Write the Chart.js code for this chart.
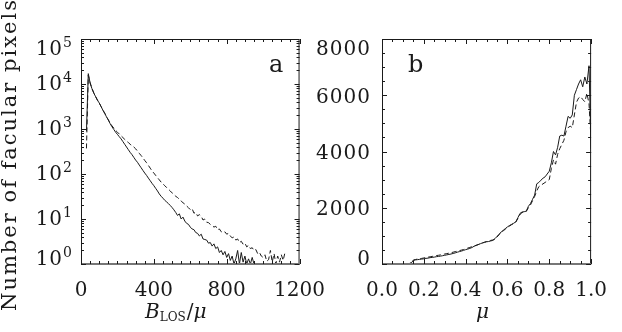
<!DOCTYPE html>
<html>
<head>
<meta charset="utf-8">
<title>Number of facular pixels</title>
<script src="https://cdn.jsdelivr.net/npm/chart.js"></script>
<style>
  body { margin: 0; background: #fff; }
  #wrap { position: relative; width: 622px; height: 332px; overflow: hidden; background: #fff; }
  canvas { position: absolute; top: 0; }
  #chartA { left: 0; }
  #chartB { left: 300px; }
</style>
</head>
<body>
<div id="wrap">
  <canvas id="chartA" width="340" height="332"></canvas>
  <canvas id="chartB" width="322" height="332"></canvas>
</div>
<script>
// panel a: histogram of B_LOS/mu (solid and dashed samples)
const bField = [30,40,50,60,70,80,90,100,110,120,130,140,150,160,170,180,190,200,210,220,
  230,240,250,260,270,280,290,300,310,320,330,340,350,360,370,380,390,400,410,420,
  430,440,450,460,470,480,490,500,510,520,530,540,550,560,570,580,590,600,610,620,
  630,640,650,660,670,680,690,700,710,720,730,740,750,760,770,780,790,800,810,820,
  830,840,850,860,870,880,890,900,910,920,930,940,950,960,970,980,990,1000,1010,1020,
  1030,1040,1050,1060,1070,1080,1090,1100,1110,1120];
const solidA = [890,17000,10500,7900,6300,5250,4370,3800,3160,2630,2240,1860,1585,1318,1122,977,851,759,676,603,
  525,457,398,347,302,269,234,204,182,158,138,120,105,93,81,71,62,55,48,42,
  36,32,29,26,24,22,20,18,16,14,12,13,10,11,9,8,7.6,6.6,6,5.8,
  5,4.8,4.2,4.6,3.6,3.5,3.4,2.9,3,2.5,2.8,2.2,2.4,1.8,2,1.6,1.9,1.4,1.7,1.2,
  1.5,1,1.3,2,1,1.8,1.1,1.5,1,1.3,1,1.4,1,null,null,null,null,null,null,null,
  null,null,null,null,null,null,null,null,null,null];
const dashedA = [370,15800,10700,8000,6400,5300,4420,3800,3170,2640,2250,1880,1600,1349,1175,1047,933,851,776,708,
  646,589,537,501,457,427,398,363,324,288,257,229,200,178,155,135,117,105,93,83,
  74,66,60,55,50,46,42,38,35,32,30,27.5,25,23,21.4,19.5,17.8,16.2,17,13.5,
  14,11.7,12.5,11.5,9.5,10,8.5,8.3,7.6,7.2,6.6,6.9,5.8,6,5.2,5,5.2,4.6,4.8,4.2,
  3.8,4,3.4,3.6,3,3.2,2.75,2.9,2.4,2.6,2.2,2.3,2,2.1,1.7,1.8,1.5,1.4,1.6,1.15,
  1.25,2,1.1,1.7,1,1.5,1.1,1.6,1.2,1.8];

// panel b: distribution over mu
const muBins = [0.00,0.01,0.02,0.03,0.04,0.05,0.06,0.07,0.08,0.09,0.10,0.11,0.12,0.13,0.14,0.15,0.16,0.17,0.18,0.19,
  0.20,0.21,0.22,0.23,0.24,0.25,0.26,0.27,0.28,0.29,0.30,0.31,0.32,0.33,0.34,0.35,0.36,0.37,0.38,0.39,
  0.40,0.41,0.42,0.43,0.44,0.45,0.46,0.47,0.48,0.49,0.50,0.51,0.52,0.53,0.54,0.55,0.56,0.57,0.58,0.59,
  0.60,0.61,0.62,0.63,0.64,0.65,0.66,0.67,0.68,0.69,0.70,0.71,0.72,0.73,0.74,0.75,0.76,0.77,0.78,0.79,
  0.80,0.81,0.82,0.83,0.84,0.85,0.86,0.87,0.88,0.89,0.90,0.91,0.92,0.93,0.94,0.95,0.96,0.97,0.98,0.99,1.00];
const solidB = [10,10,10,10,10,10,10,10,10,10,10,10,10,15,40,130,145,155,165,175,
  185,200,210,225,235,245,260,270,280,295,310,325,340,355,375,395,420,440,460,485,
  510,530,555,585,630,660,690,720,750,770,790,800,820,840,900,980,1060,1140,1200,1260,
  1320,1370,1410,1450,1500,1650,1800,1850,1860,1880,2050,2150,2300,2450,2850,2900,2980,3050,3100,3200,
  3300,3600,4000,3880,4150,4550,4580,4550,4900,5250,5180,5300,6000,6200,6400,6550,6300,6650,6400,7050,4100];
const dashedB = [10,10,10,10,10,10,10,10,10,10,10,10,10,15,40,140,160,175,190,200,
  215,230,245,255,270,285,300,310,325,340,355,370,385,400,420,440,455,475,495,515,
  540,565,590,615,640,665,690,720,745,775,800,820,840,855,880,960,1040,1120,1180,1240,
  1300,1350,1400,1440,1490,1620,1760,1830,1840,1870,2000,2100,2250,2400,2600,2750,2800,2850,2900,2950,
  3000,3400,3700,3550,3900,4100,4250,4400,4700,4850,4900,4850,5300,5750,5900,5950,5850,5770,6070,5700,4400];

const xTicksA = [0, 400, 800, 1200];
const yExpA = [0, 1, 2, 3, 4, 5];
const xTicksB = [0, 0.2, 0.4, 0.6, 0.8, 1.0];
const yTicksB = [0, 2000, 4000, 6000, 8000];

const SERIF = "'DejaVu Serif', serif";
const INK = '#1a1a1a';

function pts(xs, ys) { return xs.map((x, i) => ({ x: x, y: ys[i] })); }

function line(data, dashed) {
  return {
    data: data, borderColor: INK, borderWidth: 1, pointRadius: 0,
    tension: 0, spanGaps: false, borderDash: dashed ? [5, 3] : []
  };
}

// IDL-style box: frame, inward ticks on all four sides, custom labels and titles
const idlBox = {
  id: 'idlBox',
  afterDraw(chart, args, o) {
    const ctx = chart.ctx, a = chart.chartArea;
    const xs = chart.scales.x, ys = chart.scales.y;
    ctx.save();
    ctx.strokeStyle = INK;
    ctx.lineWidth = 1;
    ctx.beginPath();
    ctx.moveTo(a.left + 0.5, a.bottom);
    ctx.lineTo(a.left + 0.5, a.top + 0.5);
    ctx.lineTo(a.right - 0.5, a.top + 0.5);
    ctx.lineTo(a.right - 0.5, a.bottom);
    ctx.stroke();
    ctx.strokeStyle = '#777';
    ctx.lineWidth = 2;
    ctx.beginPath();
    ctx.moveTo(a.left, a.bottom);
    ctx.lineTo(a.right, a.bottom);
    ctx.stroke();

    ctx.strokeStyle = INK;
    ctx.lineWidth = 1;
    ctx.beginPath();
    const xt = (v, len) => {
      const p = Math.round(xs.getPixelForValue(v)) + 0.5;
      ctx.moveTo(p, a.bottom); ctx.lineTo(p, a.bottom - len);
      ctx.moveTo(p, a.top); ctx.lineTo(p, a.top + len);
    };
    const yt = (v, len) => {
      const p = Math.round(ys.getPixelForValue(v)) + 0.5;
      ctx.moveTo(a.left, p); ctx.lineTo(a.left + len, p);
      ctx.moveTo(a.right, p); ctx.lineTo(a.right - len, p);
    };
    for (let v = xs.min; v <= xs.max + 1e-9; v += o.xMinor) xt(v, 3);
    o.xMajor.forEach(v => xt(v, 5));
    if (o.log) {
      for (let k = 0; k < 5; k++) {
        for (let d = 1; d <= 9; d++) yt(d * Math.pow(10, k), d === 1 ? 5 : 3);
      }
      yt(ys.max, 5);
    } else {
      for (let v = ys.min; v <= ys.max + 1e-9; v += o.yMinor) yt(v, 3);
      o.yMajor.forEach(v => yt(v, 5));
    }
    ctx.stroke();

    // y tick labels
    ctx.fillStyle = INK;
    ctx.textBaseline = 'alphabetic';
    ctx.letterSpacing = '1px';
    const base = py => Math.min(Math.max(py + o.labelDrop, a.top + 16), a.bottom + 1);
    const right = a.left - o.labelGap;
    if (o.log) {
      yExpA.forEach(e => {
        const b = base(ys.getPixelForValue(Math.pow(10, e)));
        ctx.font = '14px ' + SERIF;
        const ew = ctx.measureText(String(e)).width;
        ctx.textAlign = 'left';
        ctx.fillText(String(e), right - ew, b - 8);
        ctx.font = '20px ' + SERIF;
        ctx.textAlign = 'right';
        ctx.fillText('10', right - ew, b);
      });
    } else {
      ctx.font = '20px ' + SERIF;
      ctx.textAlign = 'right';
      o.yMajor.forEach(v => ctx.fillText(String(v), right, base(ys.getPixelForValue(v))));
    }
    ctx.letterSpacing = '0px';

    // panel letter
    ctx.font = '24px ' + SERIF;
    ctx.textAlign = 'left';
    ctx.fillText(o.letter, a.left + o.letterX, 72);

    // x title
    let x = a.left + o.titleX;
    const by = 318;
    o.title.forEach(part => {
      ctx.font = part[1];
      ctx.fillText(part[0], x, by + (part[2] || 0));
      x += ctx.measureText(part[0]).width + (part[3] || 0);
    });

    // y title, rotated
    if (o.yTitle) {
      ctx.save();
      ctx.translate(16, (a.top + a.bottom) / 2 + 3);
      ctx.rotate(-Math.PI / 2);
      ctx.font = '21px ' + SERIF;
      ctx.letterSpacing = '2px';
      ctx.textAlign = 'center';
      ctx.fillText(o.yTitle, 0, 0);
      ctx.restore();
    }
    ctx.restore();
  }
};

function fitX(h) { return s => { s.height = h; }; }
function fitY(w) { return s => { s.width = w; }; }

new Chart(document.getElementById('chartA'), {
  type: 'line',
  data: { datasets: [line(pts(bField, solidA), false), line(pts(bField, dashedA), true)] },
  plugins: [idlBox],
  options: {
    responsive: false, animation: false,
    layout: { padding: { left: 0, top: 39, right: 35, bottom: 0 } },
    plugins: {
      legend: { display: false }, tooltip: { enabled: false },
      idlBox: {
        log: true, xMinor: 50, xMajor: xTicksA, labelDrop: 6, labelGap: 8,
        letter: 'a', letterX: 188,
        titleX: 64,
        title: [['B', 'italic 20px ' + SERIF, 0, 0], ['LOS', '12px ' + SERIF, 3, 1], ['/', '20px ' + SERIF, 0, 0], ['\u03bc', 'italic 20px ' + SERIF, 0, 0]],
        yTitle: 'Number of facular pixels'
      }
    },
    scales: {
      x: {
        type: 'linear', min: 0, max: 1200,
        afterFit: fitX(68),
        grid: { display: false, drawTicks: false }, border: { display: false },
        afterBuildTicks: s => { s.ticks = xTicksA.map(v => ({ value: v })); },
        ticks: { padding: 15, color: INK, font: { family: SERIF, size: 20 }, maxRotation: 0,
                 callback: v => String(v) }
      },
      y: {
        type: 'logarithmic', min: 1, max: 100000,
        afterFit: fitY(81),
        grid: { display: false, drawTicks: false }, border: { display: false },
        ticks: { display: false }
      }
    }
  }
});

new Chart(document.getElementById('chartB'), {
  type: 'line',
  data: { datasets: [line(pts(muBins, solidB), false), line(pts(muBins, dashedB), true)] },
  plugins: [idlBox],
  options: {
    responsive: false, animation: false,
    layout: { padding: { left: 0, top: 39, right: 16, bottom: 0 } },
    plugins: {
      legend: { display: false }, tooltip: { enabled: false },
      idlBox: {
        log: false, xMinor: 0.05, xMajor: xTicksB, yMinor: 500, yMajor: yTicksB,
        labelDrop: 7.5, labelGap: 11,
        letter: 'b', letterX: 26,
        titleX: 94,
        title: [['\u03bc', 'italic 20px ' + SERIF, 0, 0]]
      }
    },
    scales: {
      x: {
        type: 'linear', min: 0, max: 1,
        afterFit: fitX(68),
        grid: { display: false, drawTicks: false }, border: { display: false },
        afterBuildTicks: s => { s.ticks = xTicksB.map(v => ({ value: v })); },
        ticks: { padding: 15, color: INK, font: { family: SERIF, size: 20 }, maxRotation: 0,
                 callback: v => v.toFixed(1) }
      },
      y: {
        type: 'linear', min: 0, max: 8000,
        afterFit: fitY(82),
        grid: { display: false, drawTicks: false }, border: { display: false },
        ticks: { display: false }
      }
    }
  }
});
</script>
</body>
</html>
